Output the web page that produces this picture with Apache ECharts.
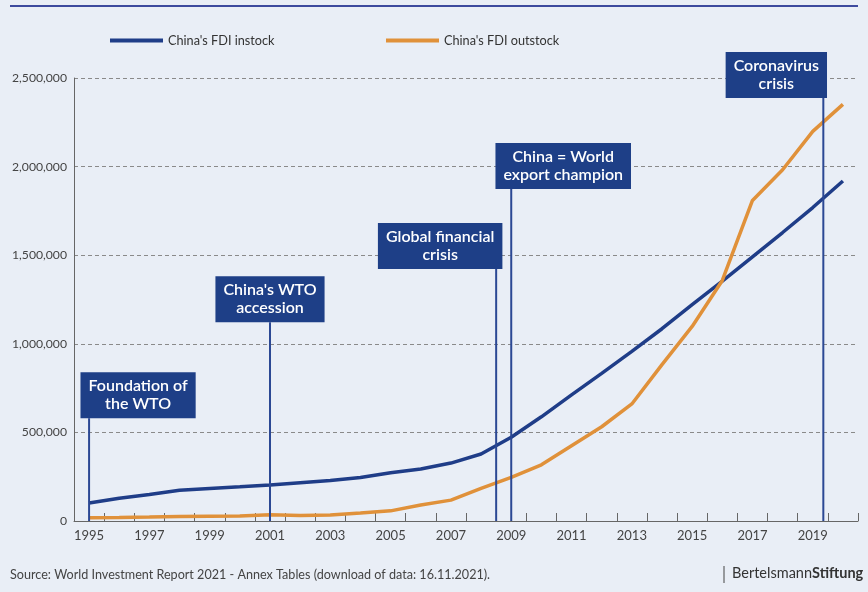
<!DOCTYPE html>
<html>
<head>
<meta charset="utf-8">
<script src="https://cdn.jsdelivr.net/npm/echarts@6/dist/echarts.min.js"></script>
<style>
html,body{margin:0;padding:0;background:#e9eef6;}
#chart{width:868px;height:592px;}
</style>
</head>
<body>
<div id="chart"></div>
<script>
const years = ['1995','1996','1997','1998','1999','2000','2001','2002','2003','2004','2005','2006','2007','2008','2009','2010','2011','2012','2013','2014','2015','2016','2017','2018','2019','2020'];
const fdiInstock = [101000,128000,150000,173000,184000,193000,203000,216000,228000,245000,272000,293000,327000,378000,473000,588000,712000,833000,957000,1085000,1221000,1354000,1491000,1628000,1769000,1919000];
const fdiOutstock = [17800,20000,22500,25600,26900,27800,34700,31000,33200,44800,57200,90600,117900,184000,245800,317200,424800,531900,660500,882600,1097900,1357400,1809000,1982300,2198900,2351000];
const yTicks = [0,500000,1000000,1500000,2000000,2500000];
const eventNames = ['Foundation of\nthe WTO', "China's WTO\naccession", 'Global financial\ncrisis', 'China = World\nexport champion', 'Coronavirus\ncrisis'];
const eventYears = [1995, 2001, 2008.5, 2009, 2019.35];
const eventTops = [580000, 1122000, 1422000, 1874000, 2387000];
const sourceText = 'Source: World Investment Report 2021 - Annex Tables (download of data: 16.11.2021).';

// style: horizontal shift of each label box relative to its line (px)
const boxShift = [49, 0, -56, 52, -47];

const BLUE = '#1f3d88';
const ORANGE = '#e0913a';
const BOX = '#1e3f87';
const FONT = 'Lato, "Noto Sans", sans-serif';

const chart = echarts.init(document.getElementById('chart'));
const option = {
  backgroundColor: '#e9eef6',
  animation: false,
  textStyle: {fontFamily: FONT},
  grid: {left: 74, right: 10, top: 78, bottom: 71, containLabel: false},
  legend: [
    {data: ["China's FDI instock"], left: 105, top: 29, icon: 'rect', itemWidth: 53, itemHeight: 4, itemGap: 10,
     textStyle: {fontFamily: FONT, fontSize: 12.7, color: '#333'}},
    {data: ["China's FDI outstock"], left: 381, top: 29, icon: 'rect', itemWidth: 53, itemHeight: 4, itemGap: 10,
     textStyle: {fontFamily: FONT, fontSize: 12.7, color: '#333'}}
  ],
  xAxis: [
    {type: 'category', data: years, boundaryGap: true,
     axisLine: {lineStyle: {color: '#666', width: 1}},
     axisTick: {show: true, inside: true, length: 8, interval: 0, lineStyle: {color: '#666'}},
     axisLabel: {interval: 1, color: '#444', fontSize: 13, fontFamily: FONT, margin: 8},
     splitLine: {show: false}},
    {type: 'value', min: 1994.5, max: 2020.5, show: false}
  ],
  yAxis: {
    type: 'value', min: yTicks[0], max: yTicks[yTicks.length-1], interval: 500000,
    axisLine: {show: true, lineStyle: {color: '#666'}},
    axisTick: {show: false},
    axisLabel: {color: '#444', fontSize: 12.2, fontFamily: FONT, margin: 7,
      formatter: v => v.toLocaleString('en-US')},
    splitLine: {show: true, lineStyle: {color: '#8a8a8a', type: [4, 3], width: 1}}
  },
  series: [
    {name: "China's FDI instock", type: 'line', data: fdiInstock, symbol: 'none',
     lineStyle: {color: BLUE, width: 3.5}, itemStyle: {color: BLUE}, z: 3},
    {name: "China's FDI outstock", type: 'line', data: fdiOutstock, symbol: 'none',
     lineStyle: {color: ORANGE, width: 3.5}, itemStyle: {color: ORANGE}, z: 3},
    {type: 'custom', xAxisIndex: 1, yAxisIndex: 0, z: 5, silent: true,
     data: eventYears.map((y, i) => [y, eventTops[i], i]),
     renderItem: function (params, api) {
       const i = api.value(2);
       const p0 = api.coord([api.value(0), 0]);
       const p1 = api.coord([api.value(0), api.value(1)]);
       return {type: 'group', children: [
         {type: 'line', shape: {x1: p0[0], y1: p0[1], x2: p1[0], y2: p1[1]},
          style: {stroke: '#2b4894', lineWidth: 2}},
         {type: 'text', style: {
            text: eventNames[i], x: p1[0] + boxShift[i], y: p1[1],
            align: 'center', verticalAlign: 'bottom',
            fill: '#ffffff', font: '600 16px ' + FONT, lineHeight: 18,
            backgroundColor: BOX, padding: [5, 8, 5, 8]}}
       ]};
     }}
  ],
  graphic: [
    {type: 'line', shape: {x1: 10, y1: 6, x2: 858, y2: 6}, style: {stroke: '#3d4a9e', lineWidth: 2}},
    {type: 'text', left: 10, top: 568, style: {text: sourceText, fill: '#444', font: '12.6px ' + FONT}},
    {type: 'line', shape: {x1: 724, y1: 566, x2: 724, y2: 583}, style: {stroke: '#444', lineWidth: 1}},
    {type: 'text', left: 732, top: 566, style: {
      text: '{a|Bertelsmann}{b|Stiftung}',
      rich: {a: {fill: '#333', font: '14.5px ' + FONT}, b: {fill: '#333', font: 'bold 14.5px ' + FONT}}}}
  ]
};
chart.setOption(option);
</script>
</body>
</html>
